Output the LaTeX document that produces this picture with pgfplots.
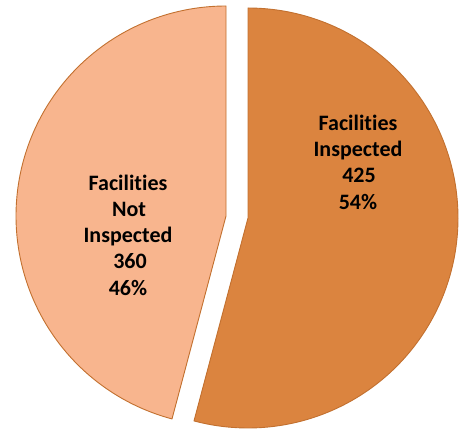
\documentclass[border=0pt]{standalone}
\usepackage{fontspec}
\setmainfont[Ligatures=NoCommon]{Carlito}
\usepackage{pgfplots}
\usepackage{pgfplotstable}
\pgfplotsset{compat=1.18}
\definecolor{orangeslice}{HTML}{DB843F}
\definecolor{peachslice}{HTML}{F8B58E}
\definecolor{sliceedge}{HTML}{C2702F}
\pgfplotstableread{
label value
Inspected 425
NotInspected 360
}\slices
\begin{document}%
\begin{tikzpicture}
\pgfplotstablegetelem{0}{value}\of\slices \let\va\pgfplotsretval
\pgfplotstablegetelem{1}{value}\of\slices \let\vb\pgfplotsretval
\pgfmathsetmacro{\fracA}{\va/(\va+\vb)}
\pgfmathsetmacro{\angA}{360*\fracA}
\pgfmathsetmacro{\startA}{90-\angA}
\pgfmathsetmacro{\endB}{450-\angA}
\begin{axis}[
  x=1pt, y=1pt,
  xmin=0, xmax=460, ymin=0, ymax=430,
  hide axis, clip=false,
]
\coordinate (LL) at (axis cs:0,0);
\coordinate (UR) at (axis cs:460,430);
% Facilities Inspected (exploded)
\addplot[fill=orangeslice, draw=sliceedge, line width=0.9pt, line join=round,
  domain=\startA:90, samples=200, variable=\t]
  ({248+210*cos(t)}, {212+210*sin(t)}) -- (axis cs:248,212) -- cycle;
% Facilities Not Inspected
\addplot[fill=peachslice, draw=sliceedge, line width=0.9pt, line join=round,
  domain=90:\endB, samples=200, variable=\t]
  ({226+210*cos(t)}, {214+210*sin(t)}) -- (axis cs:226,214) -- cycle;
\begin{scope}[every node/.style={anchor=base, inner sep=0pt, font=\fontsize{22}{26}\selectfont\bfseries}]
\node at (axis cs:358,299) {Facilities};
\node at (axis cs:358,273) {Inspected};
\node at (axis cs:359,247) {425};
\node at (axis cs:358,220) {54\%};
\node at (axis cs:128,239) {Facilities};
\node at (axis cs:129,213) {Not};
\node at (axis cs:128,187) {Inspected};
\node at (axis cs:130,161) {360};
\node at (axis cs:128,134) {46\%};
\end{scope}
\end{axis}
\pgfresetboundingbox
\path[use as bounding box] (LL) rectangle (UR);
\end{tikzpicture}%
\end{document}
